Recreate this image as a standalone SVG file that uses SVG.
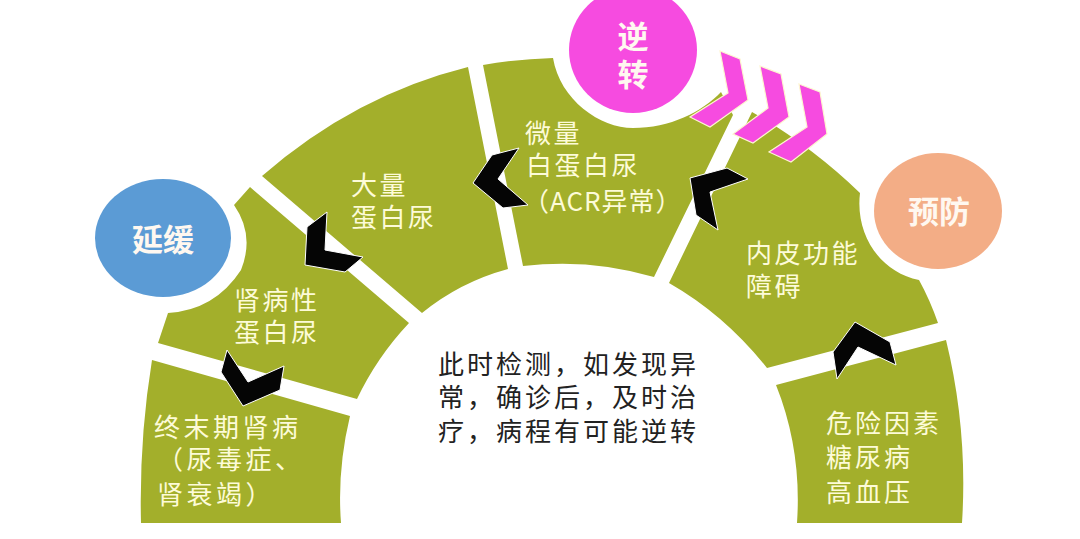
<svg xmlns="http://www.w3.org/2000/svg" width="1080" height="539" viewBox="0 0 1080 539">
<style>
.seg{fill:#a3af2b}
.lbl{font-family:"Noto Sans CJK SC","Noto Sans",sans-serif;font-size:26px;letter-spacing:2.5px;fill:#fdfbd8}
.big{font-family:"Noto Sans CJK SC","Noto Sans",sans-serif;font-size:31px;font-weight:700;fill:#fff8f0}
.mid{font-family:"Noto Sans CJK SC","Noto Sans",sans-serif;font-size:26px;letter-spacing:3px;fill:#222}
.chev{fill:#050505;stroke:#fff;stroke-width:1;stroke-linejoin:round}
.pink{fill:#f64be0;stroke:#fdf6d0;stroke-width:1.2}
</style>
<rect width="1080" height="539" fill="#fff"/>
<g id="node-esrd">
<path class="seg" d="M141 523Q139 440 152 360L350 416Q337 470 341 523Z"/>
<text class="lbl" style="letter-spacing:3.5px"><tspan x="154" y="437">终末期肾病</tspan><tspan x="157" y="469">（尿毒症、</tspan><tspan x="157" y="504">肾衰竭）</tspan></text>
</g>
<g id="node-proteinuria">
<path class="seg" d="M250 187L409 323Q377 357 357 399L158 343L168 313Q215 310 241 270Q255 235 234 205Z"/>
<text class="lbl"><tspan x="234" y="310">肾病性</tspan><tspan x="234" y="342">蛋白尿</tspan></text>
</g>
<g id="node-macro">
<path class="seg" d="M262 176Q355 95 468 67L508 269Q460 282 422 313Z"/>
<text class="lbl"><tspan x="351" y="195">大量</tspan><tspan x="351" y="227">蛋白尿</tspan></text>
</g>
<g id="node-micro">
<path class="seg" d="M483 65Q518 59 553 58C560 100 600 128 633 128C670 128 702 112 721 92L733 115L654 277Q590 258 523 266Z"/>
<text class="lbl"><tspan x="525" y="143">微量</tspan><tspan x="526" y="175">白蛋白尿</tspan><tspan x="523" y="211" style="letter-spacing:1px">（ACR异常）</tspan></text>
</g>
<g id="node-endothelium">
<path class="seg" d="M752 112Q810 145 860 193C855 235 880 272 919 280Q930 300 938 323L767 368Q725 315 669 283Z"/>
<text class="lbl"><tspan x="746" y="263">内皮功能</tspan><tspan x="746" y="296">障碍</tspan></text>
</g>
<g id="node-risk">
<path class="seg" d="M946 340Q968 430 962 523L797 523Q802 450 776 385Z"/>
<text class="lbl" style="letter-spacing:3px"><tspan x="826" y="433">危险因素</tspan><tspan x="826" y="467">糖尿病</tspan><tspan x="826" y="502">高血压</tspan></text>
</g>
<g id="node-delay">
<ellipse cx="163" cy="238" rx="68" ry="59" fill="#5b9bd5"/>
<text class="big" x="163" y="251" text-anchor="middle">延缓</text>
</g>
<g id="node-reverse">
<ellipse cx="633" cy="50" rx="64" ry="63" fill="#f64be0"/>
<text class="big" text-anchor="middle"><tspan x="633" y="48">逆</tspan><tspan x="633" y="86">转</tspan></text>
</g>
<g id="node-prevent">
<ellipse cx="938" cy="211" rx="64" ry="58" fill="#f3ad86"/>
<text class="big" x="939" y="223" text-anchor="middle">预防</text>
</g>
<g id="node-note">
<text class="mid"><tspan x="438" y="374">此时检测，如发现异</tspan><tspan x="438" y="407">常，确诊后，及时治</tspan><tspan x="438" y="441">疗，病程有可能逆转</tspan></text>
</g>
<g id="connectors">
<polygon class="chev" points="327,212 307,227 305,265 345,272 363,257 325,250"/>
<polygon class="chev" points="227,350 221,372 243,406 280,390 284,366 248,382"/>
<polygon class="chev" points="519,148 492,155 473,183 503,208 528,205 498,179"/>
<polygon class="chev" points="727,168 690,178 696,215 718,230 710,192 748,179"/>
<polygon class="chev" points="855,322 833,352 837,379 858,347 896,365 890,342"/>
<polygon class="pink" points="720,51 740,59 748,100 710,127 690,117 728,93"/>
<polygon class="pink" points="760,66 781,74 789,117 753,143 733,134 768,108"/>
<polygon class="pink" points="799,84 820,92 827,134 791,162 769,152 807,127"/>
</g>
</svg>
